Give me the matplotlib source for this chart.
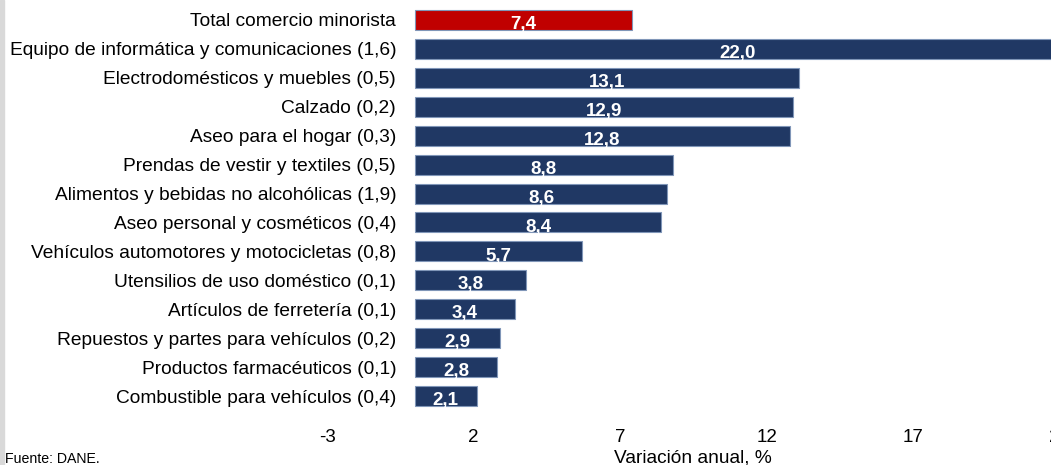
import matplotlib.pyplot as plt
from matplotlib.patches import Rectangle

plt.rcParams['font.family'] = ['Liberation Sans', 'DejaVu Sans']

# datos: variación anual (%) por línea de mercancía
categorias = [
    'Total comercio minorista',
    'Equipo de informática y comunicaciones (1,6)',
    'Electrodomésticos y muebles (0,5)',
    'Calzado (0,2)',
    'Aseo para el hogar (0,3)',
    'Prendas de vestir y textiles (0,5)',
    'Alimentos y bebidas no alcohólicas (1,9)',
    'Aseo personal y cosméticos (0,4)',
    'Vehículos automotores y motocicletas (0,8)',
    'Utensilios de uso doméstico (0,1)',
    'Artículos de ferretería (0,1)',
    'Repuestos y partes para vehículos (0,2)',
    'Productos farmacéuticos (0,1)',
    'Combustible para vehículos (0,4)',
]
valores = [7.4, 22.0, 13.1, 12.9, 12.8, 8.8, 8.6, 8.4, 5.7, 3.8, 3.4, 2.9, 2.8, 2.1]
xticks = [-3, 2, 7, 12, 17, 22]

navy = '#203864'
rojo = '#C00000'

fig = plt.figure(figsize=(10.51, 4.65), dpi=100)
fig.patches.append(Rectangle((0, 0), 4 / 1051, 1, transform=fig.transFigure,
                             color='#d9d9d9', zorder=0))

ax = fig.add_axes([327 / 1051, 54.5 / 465, 733 / 1051, 405 / 465])
# las etiquetas de categoría van pegadas al cero
ax.spines['left'].set_position(('data', 0))

colores = [rojo] + [navy] * (len(valores) - 1)
pos = range(len(valores))
h = 0.69
ax.barh(pos, valores, height=h, color=colores, edgecolor='#8096b8', linewidth=0.8)

for i, v in enumerate(valores):
    ax.text(v / 2, i + h / 2 - 0.03, f'{v:.1f}'.replace('.', ','), ha='center', va='baseline',
            color='white', fontsize=13.5, fontweight='bold',
            family=['Liberation Sans Narrow', 'Liberation Sans'])

ax.set_xlim(-3, 22)
ax.set_ylim(len(valores) - 0.5, -0.5)
ax.set_xticks(xticks)
ax.set_xticklabels([str(t) for t in xticks])
ax.set_yticks(list(pos))
ax.set_yticklabels(categorias)
ax.tick_params(axis='y', length=0, pad=13.5, labelsize=13.8)
ax.tick_params(axis='x', length=0, pad=13, labelsize=13.5)
for s in ax.spines.values():
    s.set_visible(False)

fig.text(5 / 1051, 1 - 459 / 465, 'Fuente: DANE.', fontsize=10.2, va='center', ha='left')
fig.text(693 / 1051, 1 - 458 / 465, 'Variación anual, %', fontsize=13.8, va='center', ha='center')

fig.savefig('out.png', dpi=100)
